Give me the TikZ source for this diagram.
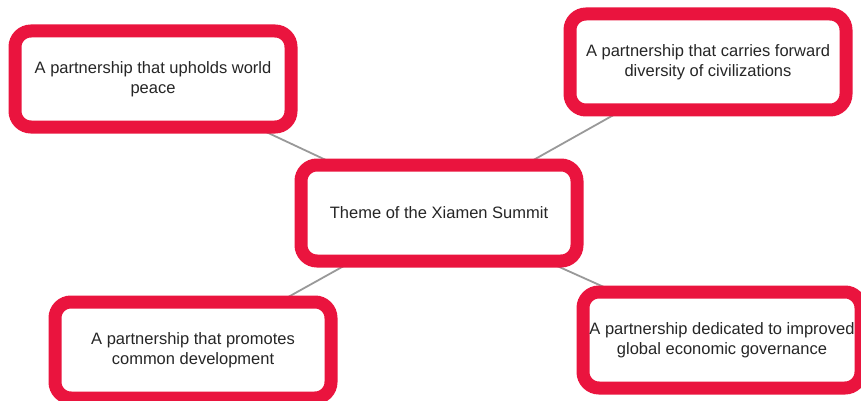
\documentclass[tikz,border=0pt]{standalone}
\usepackage{fontspec}
\setmainfont{Liberation Sans}
\begin{document}
\begin{tikzpicture}[x=1pt,y=-1pt,
  themebox/.style={draw=boxred, line width=13pt, fill=white, rounded corners=16pt,
    minimum width=276pt, minimum height=96pt, inner sep=0pt, align=center,
    font=\fontsize{16.5}{20}\selectfont, text=black!85},
  link/.style={draw=gray!80, line width=1.8pt}]
\definecolor{boxred}{RGB}{234,20,62}
\useasboundingbox (0,0) rectangle (861,401);
\clip (0,0) rectangle (861,401);
\coordinate (cC) at (439,213);
\coordinate (c1) at (153,79);
\coordinate (c2) at (708,62);
\coordinate (c3) at (193,350);
\coordinate (c4) at (722,340);
\draw[link] (cC) -- (c1);
\draw[link] (cC) -- (c2);
\draw[link] (cC) -- (c3);
\draw[link] (cC) -- (c4);
\node[themebox] (center) at (cC) {Theme of the Xiamen Summit};
\node[themebox] (n1) at (c1) {A partnership that upholds world\\peace};
\node[themebox] (n2) at (c2) {A partnership that carries forward\\diversity of civilizations};
\node[themebox] (n3) at (c3) {A partnership that promotes\\common development};
\node[themebox, minimum width=278pt] (n4) at (c4) {A partnership dedicated to improved\\global economic governance};
\end{tikzpicture}
\end{document}
